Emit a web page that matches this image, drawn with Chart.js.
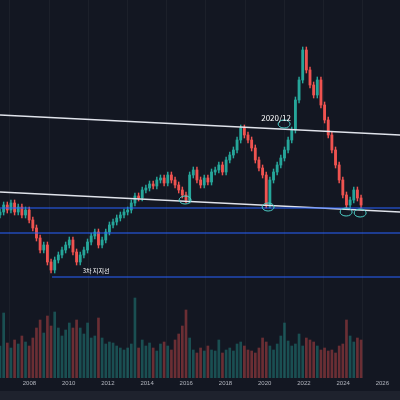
<!DOCTYPE html>
<html><head><meta charset="utf-8">
<script src="https://cdn.jsdelivr.net/npm/chart.js@4"></script>
<style>html,body{margin:0;padding:0;background:#131722}canvas{display:block}</style>
</head><body><div style="width:400px;height:400px"><canvas id="c"></canvas></div>
<script>
// time position of each candle (years)
const startYear = 2006.5, step = 0.186;
// closes (price index)
const closes = [188,195,190,197,188,193,185,190,180,172,162,150,155,138,130,140,145,150,155,160,148,138,145,150,158,164,168,155,160,168,175,178,182,185,188,190,197,204,202,210,212,216,214,220,222,217,225,220,215,210,205,200,225,230,220,215,222,218,228,230,235,228,240,245,250,260,272,265,260,252,240,232,225,195,220,228,235,242,250,260,270,300,320,350,330,315,305,320,295,280,265,250,235,220,205,195,200,210,202,195];
const volumes = [32,65,35,30,38,34,42,36,32,40,50,58,45,62,52,66,50,42,48,55,50,58,50,44,55,40,42,60,40,34,36,35,32,30,28,30,34,80,30,38,32,35,30,27,34,36,32,28,38,44,52,68,40,28,25,30,27,32,28,27,38,25,28,30,27,34,36,32,28,27,25,30,40,36,32,28,34,42,55,37,32,34,44,32,40,38,36,32,28,30,27,28,25,32,34,58,42,36,40,38];
const xTicks = [2008,2010,2012,2014,2016,2018,2020,2022,2024,2026];
const upC='#26a69a', dnC='#ef5350';
const pts=[],wick=[],vol=[],colors=[],vcol=[];
closes.forEach((c,i)=>{
  const o = i? closes[i-1] : c-3; const x = startYear+step*i;
  pts.push({x, y:[o,c]}); wick.push({x, y:[Math.min(o,c)-3, Math.max(o,c)+3]});
  vol.push({x, y:volumes[i]});
  colors.push(c>=o?upC:dnC); vcol.push(c>=o?'rgba(38,166,154,0.4)':'rgba(239,83,80,0.4)');
});
const toYr = px => startYear + px/19.6;
const ann = {
  id:'ann',
  beforeDraw(ch){const g=ch.ctx;g.save();g.fillStyle='#131722';g.fillRect(0,0,400,400);g.fillStyle='#1e222d';g.fillRect(0,391,400,9);g.restore();},
  afterDatasetsDraw(ch){
    const g=ch.ctx,X=ch.scales.x,Y=ch.scales.y;
    const L=(x1,v1,x2,v2,col,w)=>{g.strokeStyle=col;g.lineWidth=w;g.beginPath();g.moveTo(X.getPixelForValue(x1),Y.getPixelForValue(v1));g.lineTo(X.getPixelForValue(x2),Y.getPixelForValue(v2));g.stroke();};
    g.save();
    L(toYr(0),285,toYr(400),265,'#e0e3eb',1.3);
    L(toYr(0),208,toYr(400),188,'#e0e3eb',1.3);
    L(toYr(0),192,toYr(400),192,'#2962ff',1.2);
    L(toYr(0),167,toYr(400),167,'#2962ff',1.2);
    L(toYr(52),123,toYr(400),123,'#2962ff',1.2);
    g.strokeStyle='#4dd0c8';g.lineWidth=1;
    [[185,200],[268,207],[284,124],[346,212],[360,213]].forEach(([x,y])=>{g.beginPath();g.ellipse(X.getPixelForValue(toYr(x)),Y.getPixelForValue(400-y),6,4,0,0,Math.PI*2);g.stroke();});
    g.fillStyle='#ffffff';g.textAlign='center';
    g.font='8px "Noto Sans CJK KR", sans-serif';
    g.fillText('2020/12',X.getPixelForValue(toYr(276)),Y.getPixelForValue(400-121));
    g.font='6px "Noto Sans CJK KR", sans-serif';
    g.fillText('3차 지지선',X.getPixelForValue(toYr(96)),Y.getPixelForValue(400-273));
    g.restore();
  }
};
new Chart(document.getElementById('c'),{
  type:'bar',
  data:{datasets:[
    {data:vol,backgroundColor:vcol,yAxisID:'v',barThickness:2,grouped:false,order:3},
    {data:wick,backgroundColor:colors,barThickness:0.8,grouped:false,order:2},
    {data:pts,backgroundColor:colors,barThickness:2.2,grouped:false,order:1}
  ]},
  options:{responsive:true,maintainAspectRatio:false,animation:false,
    layout:{padding:0},
    plugins:{legend:{display:false},tooltip:{enabled:false}},
    scales:{
      x:{type:'linear',min:2006.5,max:2026.9,offset:false,
        afterBuildTicks:s=>{s.ticks=xTicks.map(v=>({value:v}));},
        afterFit:s=>{s.height=22;},
        ticks:{color:'#b2b5be',font:{size:6},callback:v=>String(v),maxRotation:0,padding:2},
        grid:{color:'rgba(255,255,255,0.04)',drawTicks:false},border:{display:false}},
      y:{min:22,max:400,display:false},
      v:{min:0,max:378,display:false}
    }}
  ,plugins:[ann]});
</script></body></html>
